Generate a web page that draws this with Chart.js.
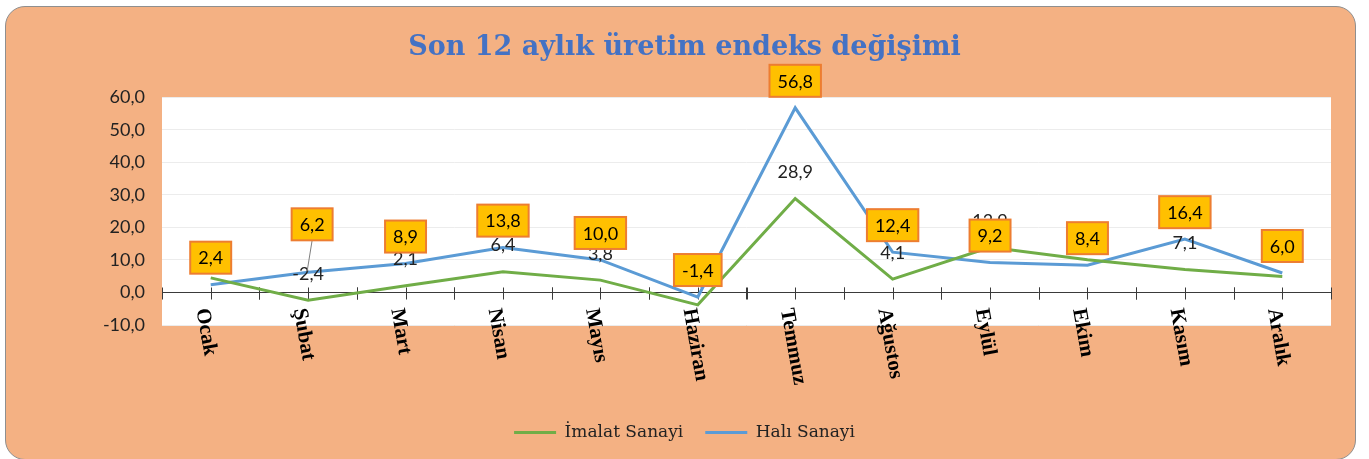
<!DOCTYPE html>
<html lang="tr">
<head>
<meta charset="utf-8">
<script src="https://cdn.jsdelivr.net/npm/chart.js@4/dist/chart.umd.min.js"></script>
<style>
  html, body { margin: 0; padding: 0; background: #fff; }
  .frame {
    position: absolute; left: 5px; top: 6px; width: 1349px; height: 452px;
    background: #f4b183; border: 1px solid #8f8f8f; border-radius: 20px;
  }
  .wrap { position: absolute; left: 0; top: 0; width: 1369px; height: 459px; }
</style>
</head>
<body>
<div class="frame"></div>
<div class="wrap"><canvas id="chart"></canvas></div>
<script>
const months = ["Ocak", "Şubat", "Mart", "Nisan", "Mayıs", "Haziran", "Temmuz", "Ağustos", "Eylül", "Ekim", "Kasım", "Aralık"];
const imalat = [4.5, -2.4, 2.1, 6.4, 3.8, -3.8, 28.9, 4.1, 13.9, 10.1, 7.1, 4.9];
const hali = [2.4, 6.2, 8.9, 13.8, 10.0, -1.4, 56.8, 12.4, 9.2, 8.4, 16.4, 6.0];
const yMin = -10, yMax = 60, yStep = 10;

const GREEN = "#70ad47";
const BLUE = "#5b9bd5";
const fmt = (v) => v.toFixed(1).replace(".", ",");

// Excel moved the Şubat label up a little and drew a leader line
const labelNudge = { 1: [4, -21] };

const plotBg = {
  id: "plotBg",
  beforeDraw(chart) {
    const { ctx, chartArea: a } = chart;
    ctx.save();
    ctx.fillStyle = "#fff";
    ctx.fillRect(a.left, a.top, a.right - a.left, a.bottom - a.top);
    ctx.restore();
  },
};

// category axis crosses at y = 0, ticks on both boundaries and centres
const zeroAxis = {
  id: "zeroAxis",
  beforeDatasetsDraw(chart) {
    const { ctx, chartArea: a, scales: { x, y } } = chart;
    const y0 = Math.round(y.getPixelForValue(0)) + 0.5;
    ctx.save();
    ctx.strokeStyle = "#3a3a3a";
    ctx.lineWidth = 1;
    ctx.beginPath();
    ctx.moveTo(a.left, y0);
    ctx.lineTo(a.right, y0);
    const half = (x.getPixelForValue(1) - x.getPixelForValue(0)) / 2;
    for (let i = 0; i < months.length; i++) {
      const c = x.getPixelForValue(i);
      [c - half, c, c + half].forEach((px) => {
        const p = Math.round(px) + 0.5;
        ctx.moveTo(p, y0 - 5);
        ctx.lineTo(p, y0 + 7);
      });
    }
    ctx.stroke();
    ctx.restore();
  },
  afterDraw(chart) {
    const { ctx, scales: { x, y } } = chart;
    const y0 = y.getPixelForValue(0);
    ctx.save();
    ctx.fillStyle = "#000";
    ctx.font = "bold 21px 'Liberation Serif'";
    ctx.textAlign = "left";
    ctx.textBaseline = "middle";
    months.forEach((m, i) => {
      ctx.save();
      ctx.translate(x.getPixelForValue(i) - 9, y0 + 16);
      ctx.rotate((80 * Math.PI) / 180);
      ctx.fillText(m, 0, 0);
      ctx.restore();
    });
    ctx.restore();
  },
};

const valueLabels = {
  id: "valueLabels",
  afterDatasetsDraw(chart) {
    const { ctx, scales: { x, y } } = chart;
    ctx.save();
    ctx.font = "18px Lato";
    ctx.textAlign = "center";
    ctx.textBaseline = "middle";

    // İmalat: plain text above the point
    ctx.fillStyle = "#222";
    imalat.forEach((v, i) => {
      ctx.fillText(fmt(v), x.getPixelForValue(i), y.getPixelForValue(v) - 26);
    });

    // Halı: yellow boxes with orange border
    hali.forEach((v, i) => {
      const px = x.getPixelForValue(i);
      const py = y.getPixelForValue(v);
      const [dx, dy] = labelNudge[i] || [0, 0];
      const txt = fmt(v);
      const w = ctx.measureText(txt).width + 16;
      const h = 32;
      const cx = px + dx;
      const bottom = py - 11 + dy;
      if (dy) {
        ctx.strokeStyle = "#7f7f7f";
        ctx.lineWidth = 1;
        ctx.beginPath();
        ctx.moveTo(cx, bottom);
        ctx.lineTo(px - 1, py - 1);
        ctx.stroke();
      }
      ctx.fillStyle = "#ffc000";
      ctx.fillRect(cx - w / 2, bottom - h, w, h);
      ctx.strokeStyle = "#ed7d31";
      ctx.lineWidth = 2;
      ctx.strokeRect(cx - w / 2, bottom - h, w, h);
      ctx.fillStyle = "#000";
      ctx.fillText(txt, cx, bottom - h / 2 + 1);
    });
    ctx.restore();
  },
};

new Chart(document.getElementById("chart"), {
  type: "line",
  data: {
    labels: months,
    datasets: [
      {
        label: "İmalat Sanayi",
        data: imalat,
        borderColor: GREEN,
        backgroundColor: GREEN,
        borderWidth: 3,
        pointRadius: 0,
        tension: 0,
      },
      {
        label: "Halı Sanayi",
        data: hali,
        borderColor: BLUE,
        backgroundColor: BLUE,
        borderWidth: 3,
        pointRadius: 0,
        tension: 0,
      },
    ],
  },
  options: {
    responsive: true,
    maintainAspectRatio: false,
    animation: false,
    events: [],
    layout: { padding: { left: 38, right: 38, top: 10, bottom: 8 } },
    scales: {
      x: {
        offset: true,
        grid: { display: false },
        border: { display: false },
        ticks: { display: false },
        afterFit: (s) => { s.height = 77; },
      },
      y: {
        min: yMin,
        max: yMax,
        grid: { color: "#ececec", drawTicks: false },
        border: { display: false },
        ticks: {
          stepSize: yStep,
          padding: 17,
          color: "#222",
          font: { family: "Lato", size: 18 },
          callback: (v) => fmt(v),
        },
        afterFit: (s) => { s.width = 124; },
      },
    },
    plugins: {
      title: {
        display: true,
        text: "Son 12 aylık üretim endeks değişimi",
        color: "#4472c4",
        font: { family: "'DejaVu Serif'", size: 27, weight: "bold" },
        padding: { top: 22, bottom: 33 },
      },
      legend: {
        position: "bottom",
        labels: {
          usePointStyle: true,
          pointStyle: "line",
          pointStyleWidth: 42,
          padding: 22,
          color: "#222",
          font: { family: "'DejaVu Serif'", size: 17 },
        },
      },
      tooltip: { enabled: false },
    },
  },
  plugins: [plotBg, zeroAxis, valueLabels],
});
</script>
</body>
</html>
